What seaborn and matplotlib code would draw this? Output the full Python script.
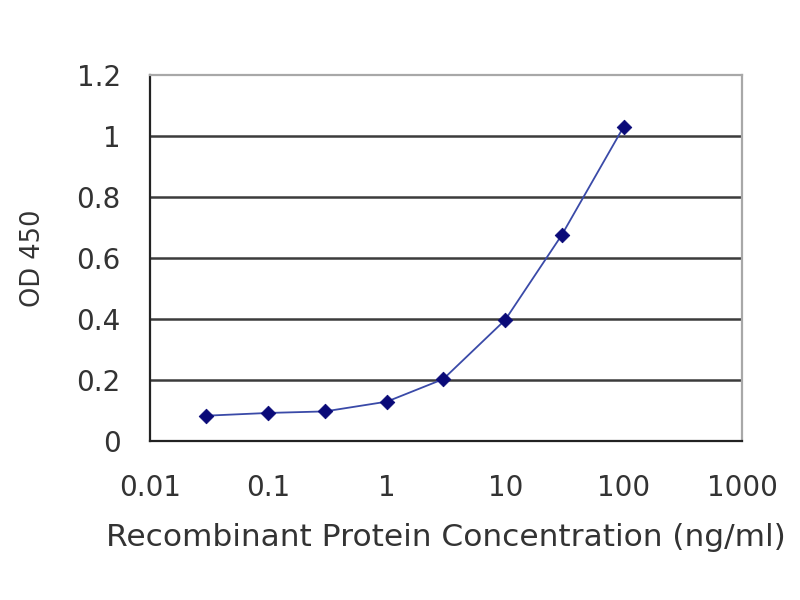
"""ELISA standard curve: OD 450 vs recombinant protein concentration."""

import matplotlib

matplotlib.use("Agg")
import matplotlib.pyplot as plt
import matplotlib.ticker as mticker
import pandas as pd
import seaborn as sns

concentration = [0.03, 0.1, 0.3, 1, 3, 10, 30, 100]
od450 = [0.083, 0.092, 0.097, 0.129, 0.203, 0.397, 0.675, 1.03]

x_ticks = [0.01, 0.1, 1, 10, 100, 1000]
x_tick_labels = ["0.01", "0.1", "1", "10", "100", "1000"]
y_ticks = [0, 0.2, 0.4, 0.6, 0.8, 1, 1.2]
y_tick_labels = ["0", "0.2", "0.4", "0.6", "0.8", "1", "1.2"]

df = pd.DataFrame({"conc": concentration, "od": od450})

sns.set_style("white")
plt.rcParams["font.family"] = ["DejaVu Sans"]

text_color = "#333333"

fig = plt.figure(figsize=(8, 6), dpi=100)
ax = fig.add_axes([0.1875, 0.265, 0.74, 0.61])

sns.lineplot(data=df, x="conc", y="od", color="#3a4aa8", linewidth=1.3,
             ax=ax, zorder=3)
sns.scatterplot(data=df, x="conc", y="od", marker="D", s=55, color="#0a0a78",
                edgecolor="#0a0a78", ax=ax, zorder=4)

ax.set_xscale("log")
ax.set_xlim(0.01, 1000)
ax.set_ylim(0, 1.2)
ax.xaxis.set_major_locator(mticker.FixedLocator(x_ticks))
ax.xaxis.set_minor_locator(mticker.NullLocator())
ax.set_xticklabels(x_tick_labels)
ax.set_yticks(y_ticks)
ax.set_yticklabels(y_tick_labels)

for y in y_ticks[1:-1]:
    ax.axhline(y, color="#3c3c3c", linewidth=1.8, zorder=1)

for side in ["top", "right"]:
    ax.spines[side].set_color("#a8a8a8")
    ax.spines[side].set_linewidth(1.6)
for side in ["left", "bottom"]:
    ax.spines[side].set_color("#222222")
    ax.spines[side].set_linewidth(1.6)

ax.tick_params(axis="x", direction="in", length=4, width=1.2, color="#222222",
               labelsize=20, labelcolor=text_color, pad=24)
ax.tick_params(axis="y", direction="in", length=8, width=1.2, color="#222222",
               labelsize=20, labelcolor=text_color, pad=21)

ax.set_xlabel("Recombinant Protein Concentration (ng/ml)", fontsize=22.5,
              color=text_color)
ax.set_ylabel("OD 450", fontsize=18.5, color=text_color)
ax.xaxis.set_label_coords(0.5, -0.225)
ax.yaxis.set_label_coords(-0.175, 0.5)

fig.savefig("out.png", dpi=100)
plt.close(fig)
